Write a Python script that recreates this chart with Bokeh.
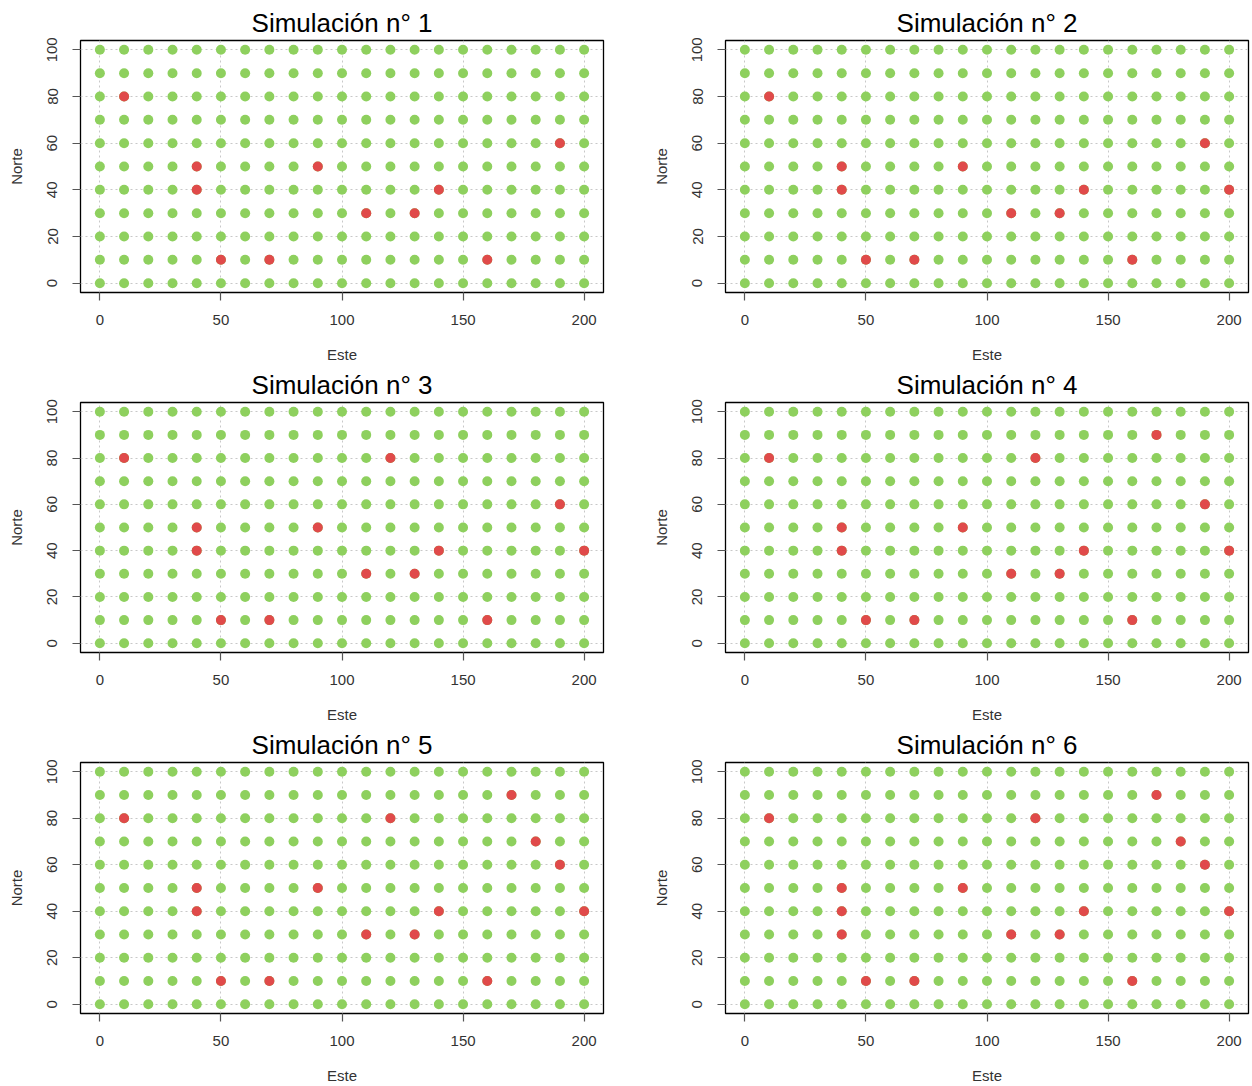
from itertools import product

from bokeh.embed import file_html
from bokeh.layouts import gridplot
from bokeh.models import FixedTicker, Range1d
from bokeh.plotting import figure
from bokeh.resources import INLINE

# Malla regular de puntos de muestreo (Este x Norte)
este = [0, 10, 20, 30, 40, 50, 60, 70, 80, 90, 100,
        110, 120, 130, 140, 150, 160, 170, 180, 190, 200]
norte = [0, 10, 20, 30, 40, 50, 60, 70, 80, 90, 100]

este_ticks = [0, 50, 100, 150, 200]
norte_ticks = [0, 20, 40, 60, 80, 100]

# Puntos marcados en rojo en cada simulación
sim1_este = [10, 40, 90, 40, 140, 110, 130, 50, 70, 160, 190]
sim1_norte = [80, 50, 50, 40, 40, 30, 30, 10, 10, 10, 60]

sim2_este = [10, 40, 90, 40, 140, 200, 110, 130, 50, 70, 160, 190]
sim2_norte = [80, 50, 50, 40, 40, 40, 30, 30, 10, 10, 10, 60]

sim3_este = [10, 120, 40, 90, 40, 140, 200, 110, 130, 50, 70, 160, 190]
sim3_norte = [80, 80, 50, 50, 40, 40, 40, 30, 30, 10, 10, 10, 60]

sim4_este = [170, 10, 120, 40, 90, 40, 140, 200, 110, 130, 50, 70, 160, 190]
sim4_norte = [90, 80, 80, 50, 50, 40, 40, 40, 30, 30, 10, 10, 10, 60]

sim5_este = [170, 10, 120, 180, 40, 90, 40, 140, 200, 110, 130, 50, 70, 160, 190]
sim5_norte = [90, 80, 80, 70, 50, 50, 40, 40, 40, 30, 30, 10, 10, 10, 60]

sim6_este = [170, 10, 120, 180, 40, 90, 40, 140, 200, 40, 110, 130, 50, 70, 160, 190]
sim6_norte = [90, 80, 80, 70, 50, 50, 40, 40, 40, 30, 30, 30, 10, 10, 10, 60]

titulos = ["Simulación n° 1", "Simulación n° 2", "Simulación n° 3",
           "Simulación n° 4", "Simulación n° 5", "Simulación n° 6"]
rojos = [(sim1_este, sim1_norte), (sim2_este, sim2_norte), (sim3_este, sim3_norte),
         (sim4_este, sim4_norte), (sim5_este, sim5_norte), (sim6_este, sim6_norte)]

VERDE = "#8ed05e"
ROJO = "#e04a4a"
FUENTE = "Liberation Sans"
TEXTO = "#333333"

# Alto de cada fila y margen superior del área de dibujo
ALTOS = [365, 360, 361]
MARGEN_SUP = [40, 36, 36]
MARGEN_INF = 73

malla = list(product(este, norte))
malla_x = [a for a, _ in malla]
malla_y = [b for _, b in malla]


def panel(titulo, rx, ry, col, fila):
    alto = ALTOS[fila]
    p = figure(width=626, height=alto, output_backend="svg", toolbar_location=None,
               x_range=Range1d(-8, 208), y_range=Range1d(-4, 104),
               title=titulo)
    p.min_border_left = 80 if col == 0 else 99
    p.min_border_right = 23 if col == 0 else 4
    p.min_border_top = MARGEN_SUP[fila]
    p.min_border_bottom = MARGEN_INF

    p.background_fill_color = "white"
    p.border_fill_color = "white"
    p.outline_line_color = "black"
    p.outline_line_width = 1.3

    p.title.text_font = FUENTE
    p.title.text_font_size = "26px"
    p.title.text_font_style = "normal"
    p.title.text_color = "black"
    p.title.align = "center"
    p.title.standoff = 5

    p.xaxis.ticker = FixedTicker(ticks=este_ticks)
    p.yaxis.ticker = FixedTicker(ticks=norte_ticks)
    p.xaxis.axis_label = "Este"
    p.yaxis.axis_label = "Norte"
    for ax in (p.xaxis[0], p.yaxis[0]):
        ax.axis_line_color = None
        ax.major_tick_in = 0
        ax.major_tick_out = 8
        ax.major_tick_line_color = "#555555"
        ax.major_tick_line_width = 1.2
        ax.minor_tick_line_color = None
        ax.major_label_text_font = FUENTE
        ax.major_label_text_font_size = "15px"
        ax.major_label_text_color = TEXTO
        ax.axis_label_text_font = FUENTE
        ax.axis_label_text_font_size = "15px"
        ax.axis_label_text_font_style = "normal"
        ax.axis_label_text_color = TEXTO
    p.xaxis.major_label_standoff = 14
    p.xaxis.axis_label_standoff = 18
    p.yaxis.major_label_standoff = 15
    p.yaxis.axis_label_standoff = 20
    p.yaxis.major_label_orientation = "vertical"

    for g in (p.xgrid[0], p.ygrid[0]):
        g.grid_line_color = "#c8c8c8"
        g.grid_line_dash = "2 3"
        g.grid_line_width = 1

    p.scatter(malla_x, malla_y, size=10, color=VERDE, line_color=None)
    p.scatter(rx, ry, size=10, color=ROJO, line_color=None)
    return p


figs = [panel(t, r[0], r[1], i % 2, i // 2) for i, (t, r) in enumerate(zip(titulos, rojos))]
layout = gridplot([[figs[0], figs[1]], [figs[2], figs[3]], [figs[4], figs[5]]],
                  toolbar_location=None)

open("out.html", "w").write(file_html(layout, INLINE))
